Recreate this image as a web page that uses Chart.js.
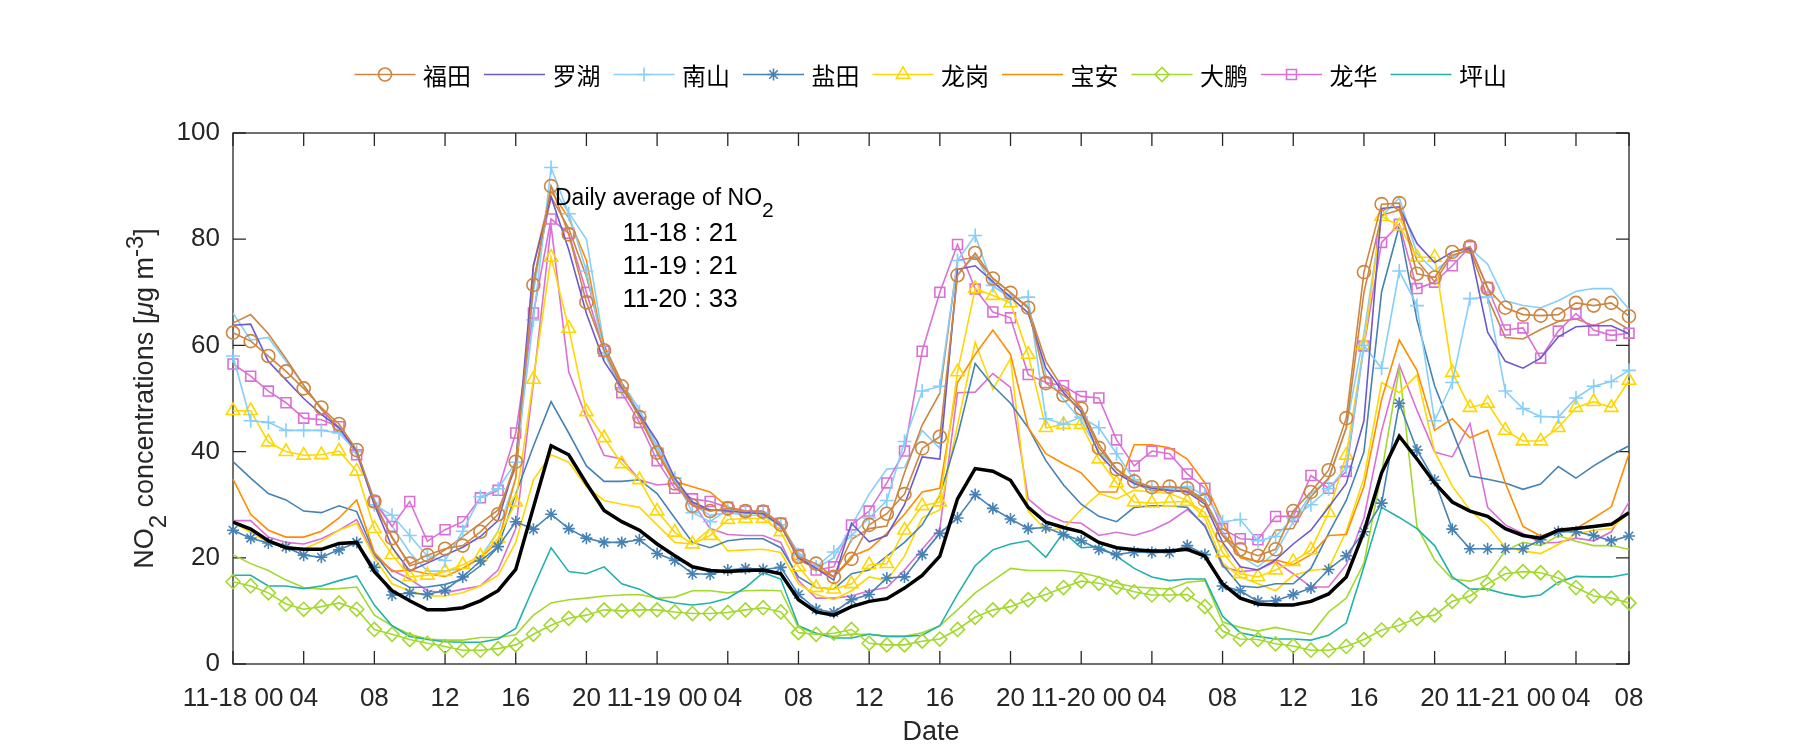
<!DOCTYPE html>
<html lang="zh">
  <head>
    <meta charset="UTF-8" />
    <title>NO2 concentrations</title>
    <script src="https://cdn.jsdelivr.net/npm/chart.js@4.4.1/dist/chart.umd.min.js"></script>
    <style>
      body {
        margin: 0;
        background: #fff;
      }
      #wrap {
        width: 1800px;
        height: 750px;
      }
    </style>
  </head>
  <body>
    <div id="wrap">
      <canvas id="no2-chart" width="1800" height="750"></canvas>
    </div>
    <script>
      // hour index from 11-18 00:00 (80 hourly values)
      const hours = Array.from({ length: 80 }, (_, i) => i);
      const tickHours = [0, 4, 8, 12, 16, 20, 24, 28, 32, 36, 40, 44, 48, 52, 56, 60, 64, 68, 72, 76, 79];
      const tickLabels = ["11-18 00", "04", "08", "12", "16", "20", "11-19 00", "04", "08", "12", "16", "20",
        "11-20 00", "04", "08", "12", "16", "20", "11-21 00", "04", "08"];
      const yTicks = [0, 20, 40, 60, 80, 100];
      const dailyAvg = ["11-18 : 21", "11-19 : 21", "11-20 : 33"];

      // stations shown in the legend
      const futian = [62.4, 60.8, 58.0, 55.1, 51.9, 48.3, 45.2, 40.3, 30.6, 23.7, 18.9, 20.5, 21.7, 22.3, 24.9, 28.2, 38.1, 71.4, 90.0, 80.9,
        68.1, 59.1, 52.3, 46.5, 39.8, 34.0, 29.8, 28.8, 29.3, 28.8, 28.7, 26.3, 20.2, 18.9, 16.4, 19.8, 26.2, 28.3, 32.0, 40.6,
        42.8, 73.2, 77.4, 72.6, 69.9, 67.1, 52.9, 50.6, 48.1, 40.7, 36.7, 34.4, 33.3, 33.4, 33.1, 30.8, 24.2, 21.6, 20.4, 21.6,
        28.8, 32.4, 36.5, 46.3, 73.8, 86.6, 86.8, 73.5, 72.8, 77.6, 78.6, 70.7, 67.1, 65.8, 65.6, 65.8, 68.0, 67.5, 68.0, 65.5];
      const luohu = [63.8, 64.0, 57.0, 53.5, 50.0, 47.0, 44.5, 40.0, 30.0, 22.0, 17.5, 19.0, 20.5, 22.0, 24.0, 27.0, 38.0, 75.0, 88.0, 78.0,
        66.0, 57.0, 52.0, 47.0, 42.0, 35.0, 30.5, 29.0, 28.8, 28.5, 28.3, 26.0, 20.0, 18.0, 15.8, 26.5, 23.0, 24.2, 30.0, 39.0,
        38.6, 74.3, 75.0, 72.0, 69.1, 66.1, 55.7, 51.1, 47.5, 39.6, 36.0, 34.0, 33.1, 32.7, 32.4, 30.1, 22.9, 18.3, 17.7, 19.6,
        22.6, 25.2, 29.5, 34.0, 45.8, 85.8, 86.1, 79.2, 75.6, 77.6, 78.3, 62.5, 57.0, 55.7, 57.6, 61.6, 63.5, 63.7, 63.7, 62.2];
      const nanshan = [58.0, 45.8, 45.5, 44.0, 44.0, 44.0, 43.5, 40.0, 30.0, 28.0, 24.2, 20.3, 19.5, 25.0, 31.5, 33.0, 38.0, 64.8, 93.5, 84.8,
        74.0, 58.6, 51.7, 47.5, 40.6, 35.0, 28.5, 26.8, 29.1, 28.5, 28.5, 26.2, 20.6, 18.3, 21.1, 24.2, 27.5, 30.8, 41.9, 51.4,
        52.3, 76.0, 80.7, 71.3, 68.8, 69.1, 46.2, 45.2, 46.5, 44.5, 39.6, 34.7, 33.1, 33.1, 33.4, 31.8, 26.8, 27.2, 23.2, 24.0,
        27.5, 30.0, 33.0, 37.0, 60.0, 55.7, 74.0, 67.5, 45.8, 53.0, 68.8, 69.1, 51.4, 48.1, 46.6, 46.5, 50.1, 52.3, 53.2, 55.3];
      const yantian = [25.2, 23.7, 22.8, 22.0, 20.5, 20.1, 21.5, 22.9, 18.2, 13.0, 13.4, 13.1, 13.9, 16.4, 19.4, 22.1, 26.8, 25.4, 28.2, 25.5,
        23.7, 22.9, 22.9, 23.4, 20.8, 19.5, 17.0, 16.9, 17.7, 18.0, 17.8, 18.2, 13.1, 10.3, 9.7, 12.1, 13.1, 16.2, 16.4, 20.6,
        24.6, 27.5, 31.9, 29.3, 27.3, 25.5, 25.7, 24.4, 23.2, 21.6, 20.6, 21.1, 21.0, 21.0, 22.3, 20.6, 14.7, 13.8, 11.8, 11.9,
        13.1, 14.3, 17.8, 20.4, 24.9, 30.3, 49.1, 40.3, 34.6, 25.4, 21.7, 21.7, 21.7, 21.7, 23.4, 24.9, 24.9, 24.2, 23.2, 24.1];
      const longgang = [47.7, 47.7, 41.8, 40.0, 39.3, 39.4, 40.1, 36.3, 25.5, 20.6, 16.4, 16.7, 17.4, 18.7, 20.3, 23.6, 30.5, 53.6, 76.6, 63.2,
        47.5, 42.6, 37.7, 34.7, 28.8, 24.8, 22.6, 24.2, 27.2, 27.4, 27.4, 24.9, 18.3, 14.4, 14.1, 15.1, 18.7, 18.9, 25.2, 29.8,
        30.5, 55.0, 70.7, 69.4, 68.0, 58.3, 44.5, 45.1, 45.1, 38.6, 34.1, 30.5, 30.3, 30.5, 30.6, 28.5, 21.0, 17.0, 16.4, 17.7,
        19.3, 21.5, 28.5, 39.3, 60.1, 84.3, 82.5, 76.6, 76.6, 54.9, 48.3, 49.1, 44.0, 42.0, 42.0, 44.5, 48.3, 49.4, 48.3, 53.4];
      const baoan = [34.8, 28.2, 25.2, 23.9, 23.9, 25.0, 27.5, 30.9, 21.0, 17.4, 17.7, 17.0, 16.5, 18.0, 20.0, 23.0, 35.0, 75.0, 89.0, 84.0,
        76.0, 59.0, 52.4, 47.2, 40.3, 34.4, 33.4, 32.4, 29.5, 28.8, 28.5, 26.2, 19.6, 18.0, 16.4, 20.3, 21.6, 24.6, 28.2, 32.4,
        33.1, 53.0, 58.3, 62.9, 58.3, 44.5, 39.6, 37.7, 36.0, 32.4, 32.4, 41.3, 41.3, 40.7, 38.6, 34.1, 26.8, 20.0, 19.3, 19.6,
        18.7, 20.6, 24.2, 24.4, 33.4, 49.8, 61.0, 55.3, 44.0, 46.2, 42.6, 44.0, 34.1, 25.9, 24.1, 25.2, 25.5, 27.5, 29.6, 39.6];
      const dapeng = [15.5, 14.7, 13.4, 11.3, 10.3, 10.8, 11.5, 10.3, 6.5, 5.6, 4.6, 3.9, 3.3, 2.6, 2.6, 2.9, 3.6, 5.6, 7.3, 8.6,
        9.2, 10.2, 10.0, 10.2, 10.2, 9.8, 9.5, 9.5, 9.7, 10.2, 10.6, 9.8, 5.9, 5.6, 5.8, 6.5, 3.9, 3.6, 3.6, 4.3,
        4.7, 6.5, 8.8, 10.2, 10.8, 12.1, 13.1, 14.4, 15.6, 15.2, 14.5, 13.6, 13.0, 13.0, 13.1, 10.8, 6.2, 4.7, 4.6, 3.8,
        3.4, 2.6, 2.6, 3.3, 4.6, 6.4, 7.3, 8.6, 9.2, 11.8, 12.8, 15.1, 17.0, 17.4, 17.2, 16.2, 14.4, 12.8, 12.4, 11.5];
      const longhua = [56.5, 54.2, 51.4, 49.2, 46.3, 46.0, 44.7, 39.4, 30.6, 25.9, 30.6, 23.1, 25.3, 26.8, 31.3, 32.7, 43.5, 66.1, 83.8, 81.1,
        70.0, 58.9, 51.1, 45.5, 38.3, 33.1, 31.1, 30.6, 29.5, 28.8, 28.8, 26.5, 20.6, 17.7, 18.3, 26.2, 28.8, 34.1, 40.1, 58.9,
        70.0, 79.0, 70.6, 66.3, 65.2, 54.5, 53.0, 52.4, 50.4, 50.1, 42.2, 37.3, 40.1, 39.6, 35.8, 33.1, 25.5, 23.6, 23.4, 27.8,
        27.8, 35.5, 33.1, 36.3, 59.9, 79.4, 82.8, 70.7, 71.9, 75.0, 78.6, 70.9, 62.9, 63.3, 57.6, 62.7, 66.0, 62.9, 61.9, 62.3];
      const pingshan = [16.7, 16.7, 14.7, 14.7, 14.2, 14.7, 15.7, 16.6, 11.1, 7.2, 5.2, 4.6, 4.2, 4.1, 4.1, 4.7, 6.7, 14.4, 21.9, 17.4,
        17.0, 18.3, 15.1, 14.1, 12.3, 11.5, 11.1, 11.5, 12.4, 14.4, 17.2, 16.0, 7.2, 5.8, 4.9, 4.9, 5.6, 5.2, 5.2, 5.4,
        7.2, 13.1, 18.5, 21.5, 22.6, 23.2, 20.1, 24.8, 21.9, 22.1, 20.3, 18.0, 16.4, 15.7, 16.0, 16.0, 9.0, 5.9, 5.2, 4.7,
        4.7, 4.5, 5.4, 7.7, 18.3, 29.5, 27.6, 25.5, 22.3, 16.4, 14.1, 14.1, 13.2, 12.6, 13.0, 15.4, 16.5, 16.4, 16.4, 17.0];

      // second (plain) line for the marked stations
      const futian2 = [64.2, 65.8, 62.2, 57.5, 52.5, 48.0, 44.5, 40.0, 30.0, 24.0, 18.5, 19.5, 21.5, 24.0, 26.5, 29.0, 37.0, 72.0, 88.0, 82.0,
        73.0, 60.0, 53.0, 47.0, 40.5, 34.5, 30.0, 29.0, 29.0, 28.5, 28.5, 26.5, 20.0, 18.0, 16.5, 23.5, 25.5, 26.0, 36.0, 45.0,
        51.0, 76.0, 76.6, 72.6, 70.0, 67.0, 57.0, 51.7, 48.3, 41.4, 36.7, 34.0, 32.7, 32.7, 32.7, 30.5, 24.2, 20.3, 19.3, 25.2,
        25.5, 31.5, 35.0, 44.5, 70.0, 84.5, 85.5, 76.0, 72.0, 77.0, 78.0, 69.0, 61.5, 61.2, 63.0, 64.5, 65.0, 63.7, 65.0, 63.0];
      const nanshan2 = [66.1, 61.0, 61.5, 57.0, 52.5, 48.0, 44.0, 40.0, 31.0, 26.0, 21.0, 17.5, 17.5, 18.0, 20.0, 25.0, 35.0, 70.0, 90.0, 85.0,
        80.0, 60.0, 53.0, 48.0, 41.0, 35.0, 30.0, 28.0, 28.5, 28.0, 28.0, 26.0, 21.0, 18.0, 20.0, 26.0, 32.0, 36.7, 37.0, 44.0,
        40.6, 73.3, 77.0, 71.0, 69.4, 67.5, 54.4, 49.8, 45.8, 40.0, 36.7, 34.4, 33.4, 33.1, 33.1, 30.8, 24.9, 20.3, 18.3, 21.0,
        26.8, 32.1, 34.7, 44.5, 62.2, 84.3, 87.8, 77.3, 74.0, 76.6, 78.3, 75.3, 68.4, 67.5, 67.1, 68.4, 70.2, 70.7, 70.7, 66.8];
      const yantian2 = [38.1, 35.0, 32.1, 30.9, 28.8, 28.5, 29.8, 28.7, 20.8, 16.4, 14.4, 14.5, 15.0, 16.0, 18.5, 22.0, 32.0, 41.0, 49.4, 43.5,
        37.3, 34.4, 34.4, 34.7, 32.1, 27.5, 22.9, 21.9, 23.2, 23.6, 23.6, 21.9, 16.4, 14.4, 14.1, 17.0, 17.7, 20.3, 22.9, 26.2,
        31.8, 42.9, 56.6, 52.4, 49.1, 44.5, 38.3, 33.7, 30.1, 27.8, 26.8, 29.5, 29.8, 29.8, 29.5, 25.9, 18.7, 14.7, 14.4, 15.1,
        15.1, 18.0, 24.6, 30.8, 39.9, 70.1, 82.5, 64.8, 52.4, 43.9, 35.4, 34.8, 34.1, 32.9, 33.9, 37.2, 35.0, 37.3, 39.3, 41.1];
      const longgang2 = [26.7, 24.8, 22.9, 22.0, 21.6, 23.1, 25.2, 26.5, 20.0, 15.1, 13.8, 12.8, 12.8, 13.4, 14.7, 16.7, 22.9, 34.7, 39.4, 38.0,
        33.4, 30.8, 30.1, 29.5, 26.2, 22.9, 22.6, 25.5, 21.3, 21.5, 21.6, 21.0, 15.1, 13.1, 12.1, 13.8, 16.4, 15.7, 20.3, 27.5,
        29.0, 45.0, 60.6, 51.7, 57.5, 28.8, 25.2, 25.5, 29.1, 32.1, 31.1, 32.7, 32.4, 32.1, 30.8, 27.5, 19.0, 16.4, 15.1, 13.8,
        16.7, 17.6, 18.0, 25.0, 35.0, 53.0, 51.1, 54.4, 40.0, 33.5, 29.0, 26.0, 22.0, 21.3, 20.8, 22.5, 24.5, 25.2, 25.5, 28.5];
      const dapeng2 = [20.6, 18.9, 17.6, 15.8, 14.4, 14.1, 14.2, 14.5, 9.2, 7.2, 5.6, 4.7, 4.5, 4.5, 5.0, 5.0, 5.5, 9.2, 11.5, 12.1,
        12.4, 12.8, 13.0, 13.1, 12.4, 12.6, 13.8, 13.8, 13.4, 13.8, 13.9, 13.8, 6.9, 5.8, 5.2, 5.6, 5.6, 5.2, 5.2, 5.9,
        7.2, 10.2, 13.4, 15.7, 18.0, 17.6, 17.6, 17.6, 17.2, 16.4, 15.2, 14.5, 14.3, 14.1, 15.4, 15.7, 7.9, 6.9, 6.2, 6.9,
        6.2, 5.6, 9.8, 12.4, 19.0, 36.0, 55.7, 25.9, 19.6, 16.0, 15.6, 16.7, 21.3, 22.9, 22.3, 24.2, 23.1, 22.3, 22.3, 21.6];
      const longhua2 = [27.0, 27.0, 23.9, 22.9, 22.6, 23.6, 25.2, 27.2, 20.3, 17.7, 16.0, 13.8, 13.4, 14.1, 14.7, 17.7, 25.5, 53.0, 82.5, 55.0,
        46.5, 39.3, 38.6, 34.7, 33.7, 34.0, 30.5, 25.5, 24.4, 24.2, 24.2, 22.9, 15.7, 12.4, 12.4, 12.8, 13.8, 14.4, 17.7, 21.6,
        25.5, 51.1, 51.2, 54.7, 52.1, 31.1, 28.3, 26.8, 26.5, 24.2, 24.8, 24.2, 25.2, 26.8, 29.1, 26.2, 18.3, 17.4, 17.7, 19.3,
        17.0, 14.5, 14.5, 18.7, 27.5, 43.9, 56.3, 47.8, 39.9, 39.0, 45.3, 29.5, 26.2, 24.6, 22.8, 22.9, 23.7, 23.2, 24.9, 30.5];

      // mean of all stations
      const average = [26.7, 25.4, 23.2, 21.9, 21.6, 21.6, 22.7, 22.9, 17.4, 13.8, 11.9, 10.2, 10.2, 10.6, 11.9, 13.8, 17.8, 29.5, 41.1, 39.4,
        34.0, 28.9, 26.8, 25.2, 22.6, 20.4, 18.3, 17.6, 17.4, 17.6, 17.7, 17.0, 12.1, 9.8, 9.2, 10.8, 11.8, 12.3, 14.3, 16.7,
        20.3, 31.1, 36.8, 36.3, 34.6, 29.5, 26.7, 25.7, 24.9, 22.9, 21.9, 21.5, 21.3, 21.3, 21.6, 20.3, 15.1, 12.4, 11.3, 11.1,
        11.1, 11.8, 13.2, 16.4, 24.9, 36.0, 42.9, 38.6, 34.1, 30.5, 28.8, 27.8, 25.5, 24.2, 23.7, 25.2, 25.5, 25.9, 26.3, 28.5];

      const FONT = '"Liberation Sans", Arial, sans-serif';
      const CJK = '"Noto Sans CJK SC", "Noto Sans", sans-serif';
      const INK = "#262626";

      function station(label, data, color, pointStyle, radius) {
        return {
          label: label,
          data: data,
          borderColor: color,
          backgroundColor: "rgba(0,0,0,0)",
          borderWidth: 1.6,
          pointStyle: pointStyle || false,
          pointRadius: pointStyle ? radius : 0,
          pointBorderWidth: 1.6,
          pointBorderColor: color,
          pointBackgroundColor: "rgba(0,0,0,0)",
          tension: 0,
          clip: false,
          order: 1,
          inLegend: true
        };
      }
      function plain(data, color) {
        return {
          label: "",
          data: data,
          borderColor: color,
          borderWidth: 1.6,
          pointRadius: 0,
          tension: 0,
          order: 2
        };
      }

      const datasets = [
        station("福田", futian, "#CD853F", "circle", 6.5),
        station("罗湖", luohu, "#6A5ACD"),
        station("南山", nanshan, "#87CEFA", "cross", 7),
        station("盐田", yantian, "#4682B4", "star", 6),
        station("龙岗", longgang, "#FFD700", "triangle", 7.7),
        station("宝安", baoan, "#FF8C00"),
        station("大鹏", dapeng, "#A3D92E", "rectRot", 7),
        station("龙华", longhua, "#DA70D6", "rect", 7),
        station("坪山", pingshan, "#20B2AA"),
        plain(futian2, "#CD853F"),
        plain(nanshan2, "#87CEFA"),
        plain(yantian2, "#4682B4"),
        plain(longgang2, "#FFD700"),
        plain(dapeng2, "#A3D92E"),
        plain(longhua2, "#DA70D6"),
        {
          label: "",
          data: average,
          borderColor: "#000",
          borderWidth: 3.5,
          pointRadius: 0,
          tension: 0,
          order: 0
        }
      ];

      function marker(ctx, style, r, x, y, color) {
        ctx.save();
        ctx.strokeStyle = color;
        ctx.fillStyle = "rgba(0,0,0,0)";
        ctx.lineWidth = 1.6;
        Chart.helpers.drawPoint(ctx, { pointStyle: style, radius: r, rotation: 0, borderWidth: 1.6 }, x, y);
        ctx.restore();
      }

      // text runs: [text, size, baseline shift, italic]
      function richWidth(ctx, runs) {
        let w = 0;
        runs.forEach(r => {
          ctx.font = (r[3] ? "italic " : "") + r[1] + "px " + FONT;
          w += ctx.measureText(r[0]).width;
        });
        return w;
      }
      function richText(ctx, runs, x, y) {
        runs.forEach(r => {
          ctx.font = (r[3] ? "italic " : "") + r[1] + "px " + FONT;
          ctx.fillText(r[0], x, y + r[2]);
          x += ctx.measureText(r[0]).width;
        });
      }

      const decor = {
        id: "decor",
        beforeDatasetsDraw(chart) {
          const ctx = chart.ctx;
          const { left, right, top, bottom } = chart.chartArea;
          const xs = chart.scales.x;
          const ys = chart.scales.y;
          ctx.save();
          ctx.strokeStyle = INK;
          ctx.lineWidth = 1.3;
          ctx.strokeRect(left, top, right - left, bottom - top);
          ctx.beginPath();
          tickHours.forEach(h => {
            const px = xs.getPixelForValue(h);
            ctx.moveTo(px, bottom);
            ctx.lineTo(px, bottom - 13);
            ctx.moveTo(px, top);
            ctx.lineTo(px, top + 13);
          });
          yTicks.forEach(v => {
            const py = ys.getPixelForValue(v);
            ctx.moveTo(left, py);
            ctx.lineTo(left + 13, py);
            ctx.moveTo(right, py);
            ctx.lineTo(right - 13, py);
          });
          ctx.stroke();
          ctx.restore();
        },
        afterDraw(chart) {
          const ctx = chart.ctx;
          const { left, right, top, bottom } = chart.chartArea;
          ctx.save();
          ctx.fillStyle = INK;
          ctx.textBaseline = "alphabetic";

          // legend
          let lx = 354.5;
          const ly = 74.5;
          chart.data.datasets.forEach(ds => {
            if (!ds.inLegend) return;
            ctx.strokeStyle = ds.borderColor;
            ctx.lineWidth = 1.6;
            ctx.beginPath();
            ctx.moveTo(lx, ly);
            ctx.lineTo(lx + 61, ly);
            ctx.stroke();
            if (ds.pointStyle) marker(ctx, ds.pointStyle, ds.pointRadius, lx + 30.5, ly, ds.borderColor);
            ctx.font = "24px " + CJK;
            ctx.fillStyle = "#000";
            ctx.textBaseline = "middle";
            ctx.fillText(ds.label, lx + 68.5, ly + 1);
            lx += 68.5 + ctx.measureText(ds.label).width + 13;
          });

          // axis titles
          ctx.fillStyle = INK;
          ctx.textBaseline = "alphabetic";
          ctx.textAlign = "center";
          ctx.font = "27px " + FONT;
          ctx.fillText("Date", (left + right) / 2, 740);

          ctx.textAlign = "left";
          const yTitle = [["NO", 27, 0], ["2", 24, 13], [" concentrations [", 27, 0], ["\u03bc", 27, 0, true],
            ["g m", 27, 0], ["-3", 24, -10], ["]", 27, 0]];
          ctx.save();
          ctx.translate(153, (top + bottom) / 2);
          ctx.rotate(-Math.PI / 2);
          richText(ctx, yTitle, -richWidth(ctx, yTitle) / 2, 0);
          ctx.restore();

          // daily average note
          ctx.fillStyle = "#000";
          richText(ctx, [["Daily average of NO", 23, 0], ["2", 21, 11.5]], 555, 205);
          ctx.font = "26px " + FONT;
          dailyAvg.forEach((t, i) => ctx.fillText(t, 622.5, 241 + i * 33));
          ctx.restore();
        }
      };

      new Chart(document.getElementById("no2-chart"), {
        type: "line",
        data: { labels: hours, datasets: datasets },
        options: {
          responsive: false,
          animation: false,
          devicePixelRatio: 1,
          layout: { padding: { top: 133, right: 171, left: 0, bottom: 0 } },
          plugins: { legend: { display: false }, tooltip: { enabled: false } },
          scales: {
            x: {
              type: "linear",
              min: 0,
              max: 79,
              afterBuildTicks: s => {
                s.ticks = tickHours.map(v => ({ value: v }));
              },
              afterFit: s => {
                s.height = 86;
              },
              grid: { display: false },
              border: { display: false },
              ticks: {
                autoSkip: false,
                maxRotation: 0,
                padding: 11,
                color: INK,
                font: { family: FONT, size: 26 },
                callback: (v, i) => tickLabels[i]
              }
            },
            y: {
              min: 0,
              max: 100,
              afterBuildTicks: s => {
                s.ticks = yTicks.map(v => ({ value: v }));
              },
              afterFit: s => {
                s.width = 233;
              },
              grid: { display: false },
              border: { display: false },
              ticks: {
                padding: 5,
                color: INK,
                font: { family: FONT, size: 26 }
              }
            }
          }
        },
        plugins: [decor]
      });
    </script>
  </body>
</html>
